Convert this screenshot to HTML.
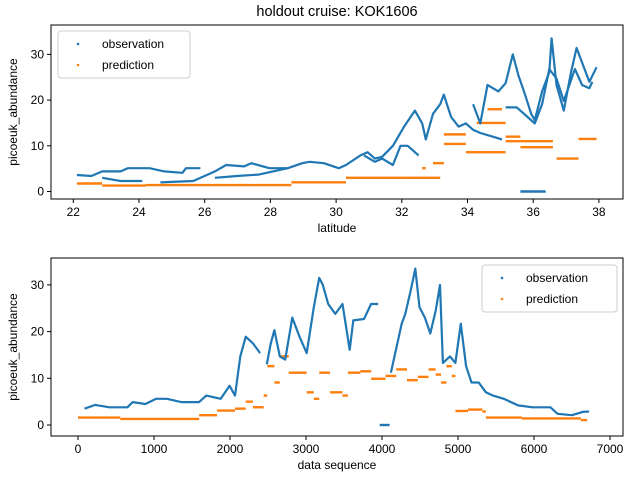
<!DOCTYPE html>
<html><head><meta charset="utf-8"><style>
body{margin:0;background:#fff;}
svg{display:block;font-family:"Liberation Sans","DejaVu Sans",sans-serif;}
</style></head><body>
<svg id="chart" width="640" height="480" viewBox="0 0 640 480"></svg>
<script>
// ---- top chart data (latitude vs abundance) ----
const topTicksX = [22,24,26,28,30,32,34,36,38];
const topTicksY = [0,10,20,30];
const topObsLat = [22.11,22.55,22.88,23.44,23.66,23.99,24.32,24.77,25.32,25.43,25.87,null,
  22.88,23.44,23.66,24.10,null,24.65,25.65,26.09,26.31,26.65,27.20,27.42,27.97,28.53,28.97,29.19,29.63,30.08,30.30,30.74,30.96,31.18,31.40,31.73,32.07,32.40,32.62,32.73,32.95,33.17,33.28,33.50,33.73,33.95,34.17,34.39,34.72,35.05,null,
  26.31,26.98,27.64,28.08,28.53,null,
  30.85,31.18,31.40,31.73,31.96,32.18,32.51,null,
  34.17,34.39,34.61,34.94,35.16,35.38,35.55,35.72,35.94,36.05,36.27,36.49,36.56,36.71,36.93,37.15,37.32,37.49,37.71,37.93,null,
  35.16,35.50,35.83,36.05,36.27,36.49,36.71,36.93,37.27,37.49,37.71,37.80];
const topObsVal = [3.6,3.4,4.4,4.4,5.1,5.1,5.1,4.4,4.1,5.1,5.1,null,
  3.0,2.3,2.3,2.3,null,2.0,2.3,3.7,4.4,5.8,5.5,6.2,5.1,5.1,6.2,6.5,6.2,5.1,5.8,7.9,8.6,7.2,7.6,10.0,14.2,17.7,14.9,11.4,17.0,19.1,21.2,16.3,14.2,14.9,13.5,12.8,12.1,11.4,null,
  3.0,3.4,3.7,4.4,5.1,null,
  7.9,6.5,7.2,5.8,10.0,10.0,7.9,null,
  19.1,14.9,23.3,21.9,23.7,30.0,25.4,21.9,17.0,15.6,21.9,26.1,33.5,23.3,17.7,26.1,31.4,28.2,24.0,27.2,null,
  18.4,18.4,16.3,14.9,19.1,26.8,24.7,19.8,26.8,23.3,22.6,24.0];
const topZeroLat = [35.61,36.38];
const topPredLat1 = [22.11,22.88,24.21,28.64,30.30,32.07,32.62,32.95,33.28,33.28,33.95,34.28,34.61,35.16,35.16,35.61,36.71,37.38];
const topPredLat2 = [22.88,24.21,28.64,30.30,32.07,33.17,32.73,33.28,33.95,33.95,35.16,35.16,35.05,36.60,35.61,36.60,37.38,37.93];
const topPredVal  = [1.75,1.3,1.4,2.0,3.0,3.0,5.1,6.2,12.5,10.4,8.6,15.0,18.0,11.0,12.0,9.7,7.2,11.5];
// ---- bottom chart data (sequence) ----
const botTicksX = [0,1000,2000,3000,4000,5000,6000,7000];
const botTicksY = [0,10,20,30];
const obsIdx = [85,226,415,650,720,887,1028,1170,1358,1594,1688,1877,1995,2066,2136,2207,2301,2396,null,2484,2537,2584,2655,2726,2820,2914,3009,3103,3174,3221,3292,3386,3480,3575,3622,3763,3857,3950,null,4117,4259,4306,4376,4438,4494,4565,4636,4706,4763,4801,4895,4966,5037,5107,5178,5272,5367,5461,5602,5791,5980,6216,6310,6499,6641,6725];
const obsVal = [3.5,4.3,3.8,3.8,4.9,4.5,5.6,5.6,4.9,4.9,6.3,5.6,8.4,6.3,14.7,18.9,17.5,15.4,null,13.0,17.5,20.3,14.7,14.0,23.0,18.9,15.4,25.2,31.5,30.0,25.9,23.8,25.9,16.1,22.4,22.7,25.9,25.9,null,11.2,21.7,23.8,28.7,33.5,25.2,23.0,19.6,24.5,30.0,13.3,14.7,13.3,21.7,12.6,9.1,9.1,7.0,6.3,5.6,4.2,3.8,3.8,2.4,2.1,2.8,2.9];
const zeroIdx = [3970,4100];
const predIdx = [0,556,1594,1830,2066,2207,2301,2443,2490,2584,2655,2773,3009,3103,3174,3316,3480,3551,3716,3858,4046,4188,4329,4471,4612,4706,4777,4848,4919,4966,5131,5320,5367,5838,6617];
const predVal = [1.6,1.3,2.1,3.1,3.5,5.0,3.8,6.3,12.6,9.1,14.7,11.2,7.0,5.6,11.2,7.0,6.3,11.2,11.5,9.9,10.5,11.9,9.6,10.3,11.9,10.8,9.1,12.6,10.5,3.0,3.3,2.9,1.6,1.4,1.05];
const predEnd = 6700;

const svg = document.getElementById('chart');
const NS = 'http://www.w3.org/2000/svg';
function el(tag, attrs, parent, text){
  const e = document.createElementNS(NS, tag);
  for (const k in attrs) e.setAttribute(k, attrs[k]);
  if (text !== undefined) e.textContent = text;
  (parent||svg).appendChild(e);
  return e;
}
const BLUE = '#1f77b4', ORANGE = '#ff7f0e';

function axes(name, box, xs, ys, xTicks, yTicks, xlabel, ylabel){
  const g = el('g', {});
  
  
  el('rect', {x:box.l, y:box.t, width:box.r-box.l, height:box.b-box.t, fill:'none', stroke:'#000', 'stroke-width':1}, g);
  xTicks.forEach(v => {
    const x = xs(v);
    el('line', {x1:x, x2:x, y1:box.b, y2:box.b+4, stroke:'#000'}, g);
    const t = el('text', {x:x, y:box.b+17, 'font-size':12, 'text-anchor':'middle'}, g, String(v));
    
    
  });
  yTicks.forEach(v => {
    const y = ys(v);
    el('line', {x1:box.l-4, x2:box.l, y1:y, y2:y, stroke:'#000'}, g);
    const t = el('text', {x:box.l-7, y:y+4, 'font-size':12, 'text-anchor':'end'}, g, String(v));
    
    
  });
  const xl = el('text', {x:(box.l+box.r)/2, y:box.b+33, 'font-size':12, 'text-anchor':'middle'}, g, xlabel);
  
  
  const cy = (box.t+box.b)/2;
  const yl = el('text', {x:17, y:cy, 'font-size':12, 'text-anchor':'middle', transform:'rotate(-90 17 '+cy+')'}, g, ylabel);
  
  
  return g;
}
function polylines(xArr, yArr, xs, ys, color, name){
  let pts = [];
  const flush = () => {
    if (pts.length > 1) {
      const p = el('polyline', {points:pts.join(' '), fill:'none', stroke:color, 'stroke-width':2.2, 'stroke-linejoin':'round'});
      
      
    }
    pts = [];
  };
  for (let i=0;i<xArr.length;i++){
    if (xArr[i]===null || yArr[i]===null) { flush(); continue; }
    pts.push(xs(xArr[i]).toFixed(1)+','+ys(yArr[i]).toFixed(1));
  }
  flush();
}
function hseg(x1, x2, y, color, name){
  const l = el('line', {x1:x1, x2:x2, y1:y, y2:y, stroke:color, 'stroke-width':2.4});
  
  
}
function legend(x, y, w){
  const g = el('g', {});
  
  
  el('rect', {x:x, y:y, width:w, height:47, rx:3, fill:'#fff', 'fill-opacity':0.8, stroke:'#ccc'}, g);
  el('circle', {cx:x+20, cy:y+13, r:1.3, fill:BLUE}, g);
  const a = el('text', {x:x+44, y:y+17, 'font-size':12}, g, 'observation');
  
  
  el('circle', {cx:x+20, cy:y+34, r:1.3, fill:ORANGE}, g);
  const b = el('text', {x:x+44, y:y+38, 'font-size':12}, g, 'prediction');
  
  
}

const title = el('text', {x:337, y:16, 'font-size':14.5, 'text-anchor':'middle'}, svg, 'holdout cruise: KOK1606');



const tb = {l:51, r:623, t:25, b:199};
const txs = v => 73.3 + (v-22)*32.85;
const tys = v => 191.5 - v*4.57;
axes('top-axes', tb, txs, tys, topTicksX, topTicksY, 'latitude', 'picoeuk_abundance');
for (let i=0;i<topPredVal.length;i++) hseg(txs(topPredLat1[i]), txs(topPredLat2[i]), tys(topPredVal[i]), ORANGE, 'top-prediction-segment');
polylines(topObsLat, topObsVal, txs, tys, BLUE, 'top-observation-line');
hseg(txs(topZeroLat[0]), txs(topZeroLat[1]), tys(0), BLUE, 'top-observation-zero');
legend(58, 31, 132);

const bb = {l:51, r:623, t:258, b:436};
const bxs = v => 78 + v*0.076;
const bys = v => 425 - v*4.67;
axes('bottom-axes', bb, bxs, bys, botTicksX, botTicksY, 'data sequence', 'picoeuk_abundance');
for (let i=0;i<predIdx.length;i++){
  const nx = i+1<predIdx.length ? predIdx[i+1] : predEnd;
  hseg(bxs(predIdx[i]), bxs(nx), bys(predVal[i]), ORANGE, 'bottom-prediction-segment');
}
polylines(obsIdx, obsVal, bxs, bys, BLUE, 'bottom-observation-line');
hseg(bxs(zeroIdx[0]), bxs(zeroIdx[1]), bys(0), BLUE, 'bottom-observation-zero');
legend(482, 265, 135);
</script>
</body></html>
